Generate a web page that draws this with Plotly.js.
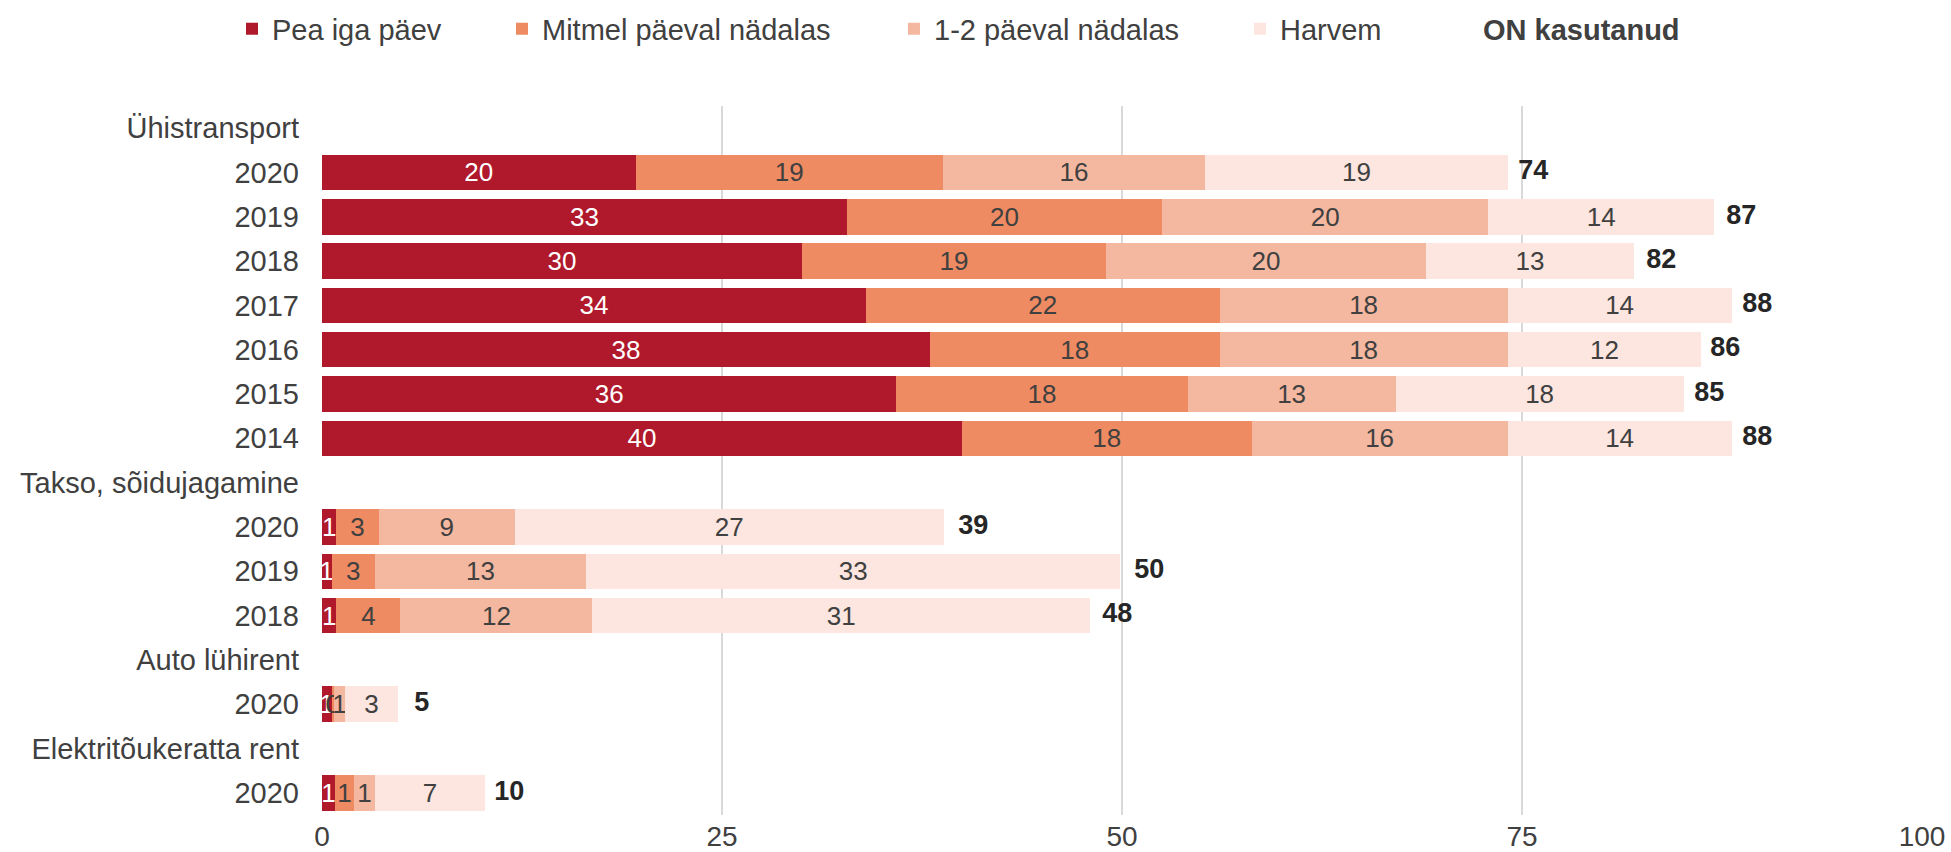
<!DOCTYPE html>
<html>
<head>
<meta charset="utf-8">
<script src="https://cdn.plot.ly/plotly-3.0.1.min.js"></script>
<style>html,body{margin:0;padding:0;background:#fff;}#chart{width:1951px;height:852px;}</style>
</head>
<body>
<div id="chart"></div>
<script>
// Row labels (groups and years), top to bottom
const rowLabels = ['Ühistransport','2020','2019','2018','2017','2016','2015','2014',
  'Takso, sõidujagamine','2020','2019','2018',
  'Auto lühirent','2020',
  'Elektritõukeratta rent','2020'];
const rowIds = rowLabels.map((l, i) => 'r' + i + ' ' + l);

const seriesNames = ['Pea iga päev', 'Mitmel päeval nädalas', '1-2 päeval nädalas', 'Harvem'];
const totalName = 'ON kasutanud';

const peaIgaPaev = [null,19.6,32.8,30.0,34.0,38.0,35.9,40.0, null,0.9,0.6,0.9, null,0.6, null,0.8];
const mitmelPaeval = [null,19.2,19.7,19.0,22.1,18.1,18.2,18.1, null,2.65,2.7,4.0, null,0.15, null,1.2];
const yksKaksPaeval = [null,16.4,20.4,20.0,18.0,18.0,13.0,16.0, null,8.5,13.2,12.0, null,0.7, null,1.3];
const harvem = [null,18.9,14.1,13.0,14.0,12.1,18.0,14.0, null,26.8,33.4,31.1, null,3.3, null,6.9];
const onKasutanud = [null,74,87,82,88,86,85,88, null,39,50,48, null,5, null,10];

const colors = ['#b0182b', '#ef8b62', '#f4b8a0', '#fce6df'];
const textColors = ['#ffffff', '#404040', '#404040', '#404040'];
const FONT = 'Liberation Sans, Arial, sans-serif';

const seriesValues = [peaIgaPaev, mitmelPaeval, yksKaksPaeval, harvem];
const legendIds = ['legend', 'legend2', 'legend3', 'legend4'];

const traces = seriesValues.map((vals, i) => ({
  type: 'bar',
  orientation: 'h',
  name: seriesNames[i],
  x: vals,
  y: rowIds,
  marker: {color: colors[i], line: {width: 0}},
  texttemplate: '%{x:.0f}',
  textposition: 'inside',
  insidetextanchor: 'middle',
  textangle: 0,
  constraintext: 'none',
  insidetextfont: {family: FONT, size: 26, color: textColors[i]},
  hoverinfo: 'skip',
  legend: legendIds[i]
}));

traces.push({
  type: 'scatter',
  mode: 'markers+text',
  x: onKasutanud,
  y: rowIds,
  text: onKasutanud.map(v => v === null ? '' : String(v)),
  textposition: 'middle right',
  textfont: {family: FONT, size: 27, color: '#262626', weight: 'bold'},
  marker: {size: 18, color: 'rgba(0,0,0,0)'},
  cliponaxis: false,
  showlegend: false,
  hoverinfo: 'skip'
});

// legend-only entry for the totals
traces.push({
  type: 'scatter',
  mode: 'markers',
  name: '<b>' + totalName + '</b>',
  x: [null],
  y: [rowIds[0]],
  marker: {size: 12, color: 'rgba(0,0,0,0)'},
  showlegend: true,
  hoverinfo: 'skip',
  legend: 'legend5'
});

function leg(x) {
  return {orientation: 'h', x: x, xanchor: 'left', xref: 'paper',
    y: 1 - 29 / 852, yanchor: 'middle', yref: 'container',
    bgcolor: 'rgba(0,0,0,0)', borderwidth: 0, itemwidth: 30,
    font: {family: FONT, size: 29, color: '#404040'}};
}

const layout = {
  width: 1951, height: 852,
  margin: {l: 322, r: 29, t: 106, b: 37, pad: 0},
  paper_bgcolor: '#ffffff', plot_bgcolor: '#ffffff',
  barmode: 'stack', bargap: 0.2,
  font: {family: FONT, color: '#404040'},
  uniformtext: {mode: 'show', minsize: 26},
  xaxis: {
    range: [0, 100], tick0: 0, dtick: 25, showgrid: true, gridcolor: '#d9d9d9', gridwidth: 1.5,
    zeroline: false, showline: false, ticks: '', ticklabelstandoff: 2,
    tickfont: {family: FONT, size: 28, color: '#404040'}, fixedrange: true
  },
  yaxis: {
    type: 'category', categoryorder: 'array', categoryarray: rowIds,
    range: [rowIds.length - 0.5, -0.5],
    tickmode: 'array', tickvals: rowIds, ticktext: rowLabels,
    showgrid: false, zeroline: false, showline: false, ticks: '', ticklabelstandoff: 22,
    tickfont: {family: FONT, size: 29, color: '#404040'}, fixedrange: true
  },
  legend: leg(-0.05625),
  legend2: leg(0.1125),
  legend3: leg(0.3575),
  legend4: leg(0.57375),
  legend5: leg(0.700625),
  showlegend: true
};

Plotly.newPlot('chart', traces, layout, {displayModeBar: false, staticPlot: true});
</script>
</body>
</html>
